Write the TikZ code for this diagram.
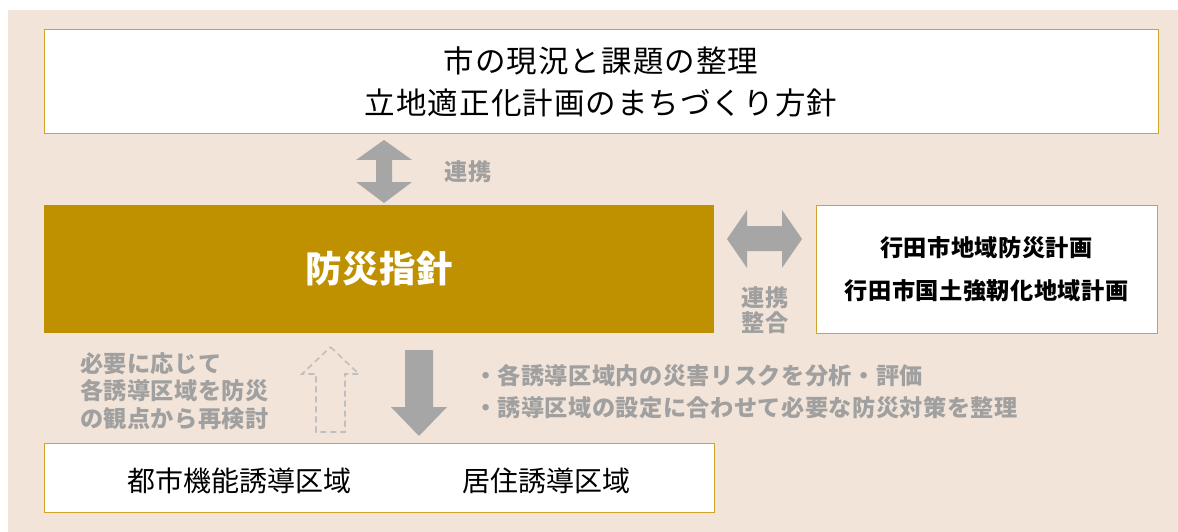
\documentclass[tikz,border=0pt]{standalone}
\usepackage{fontspec}
\setmainfont{Noto Sans CJK JP}
\newfontfamily\jp{Noto Sans CJK JP}
\newcommand{\ls}[1]{\addfontfeature{LetterSpace=#1}}
\begin{document}
\begin{tikzpicture}[x=1pt,y=-1pt,
  every node/.style={inner sep=0pt,outer sep=0pt},
  wbox/.style={draw=goldline,fill=white,line width=1pt},
  greytxt/.style={text=greytext,font=\jp\bfseries\fontsize{23.2}{27.5}\selectfont\ls{2}},
]
\definecolor{beige}{HTML}{F2E4D8}
\definecolor{goldfill}{HTML}{BF9000}
\definecolor{goldline}{HTML}{D0A42A}
\definecolor{arrowgrey}{HTML}{A6A6A6}
\definecolor{greytext}{HTML}{A0A0A0}
\definecolor{dashgrey}{HTML}{BFBFBF}
\useasboundingbox (0,0) rectangle (1178,532);
\fill[beige] (8,10) rectangle (1178,532);
% boxes
\node[wbox,minimum width=1114pt,minimum height=104pt,align=center,
  font=\jp\fontsize{30.5}{42}\selectfont\ls{3.5}] (top) at (601,82)
  {市の現況と課題の整理\\立地適正化計画のまちづくり方針};
\node[fill=goldfill,minimum width=670pt,minimum height=128pt,text=white,
  font=\jp\bfseries\fontsize{36.5}{40}\selectfont\ls{1.5}] (main) at (379,269) {防災指針};
\node[wbox,minimum width=341pt,minimum height=128pt,align=center,
  font=\jp\bfseries\fontsize{23.2}{43}\selectfont\ls{2}] (plan) at (986.5,269)
  {行田市地域防災計画\\行田市国土強靭化地域計画};
\node[wbox,minimum width=670pt,minimum height=69pt] (zone) at (379,477.5) {};
\node[font=\jp\fontsize{28}{30}\selectfont\ls{0}] (z1) at (239,481) {都市機能誘導区域};
\node[font=\jp\fontsize{28}{30}\selectfont\ls{0}] (z2) at (546,481) {居住誘導区域};
% vertical double arrow top
\fill[arrowgrey] (384,140) -- (412,160) -- (392,160) -- (392,182) -- (412,182)
  -- (384,203) -- (356,182) -- (376,182) -- (376,160) -- (356,160) -- cycle;
\node[greytxt] (l1) at (468,172) {連携};
% horizontal double arrow
\fill[arrowgrey] (727,239) -- (747,210) -- (747,226) -- (782,226) -- (782,210)
  -- (802,239) -- (782,268) -- (782,251) -- (747,251) -- (747,268) -- cycle;
\node[greytxt,align=center,font=\jp\bfseries\fontsize{23.2}{25}\selectfont\ls{2}] (l2) at (765,310) {連携\\整合};
% dashed up arrow
\draw[dashgrey,line width=1.6pt,dash pattern=on 6pt off 4pt]
  (330.5,347) -- (359,374) -- (345,374) -- (345,432) -- (316,432) -- (316,374)
  -- (302,374) -- cycle;
% solid down arrow
\fill[arrowgrey] (405,350) -- (433,350) -- (433,407) -- (447,407) -- (419,436)
  -- (391,407) -- (405,407) -- cycle;
\node[greytxt,align=left,anchor=west] (left) at (80,391)
  {必要に応じて\\各誘導区域を防災\\の観点から再検討};
\node[greytxt,align=left,anchor=west,font=\jp\bfseries\fontsize{23.2}{32}\selectfont\ls{2}] (right) at (474,392)
  {・各誘導区域内の災害リスクを分析・評価\\・誘導区域の設定に合わせて必要な防災対策を整理};
\end{tikzpicture}
\end{document}
